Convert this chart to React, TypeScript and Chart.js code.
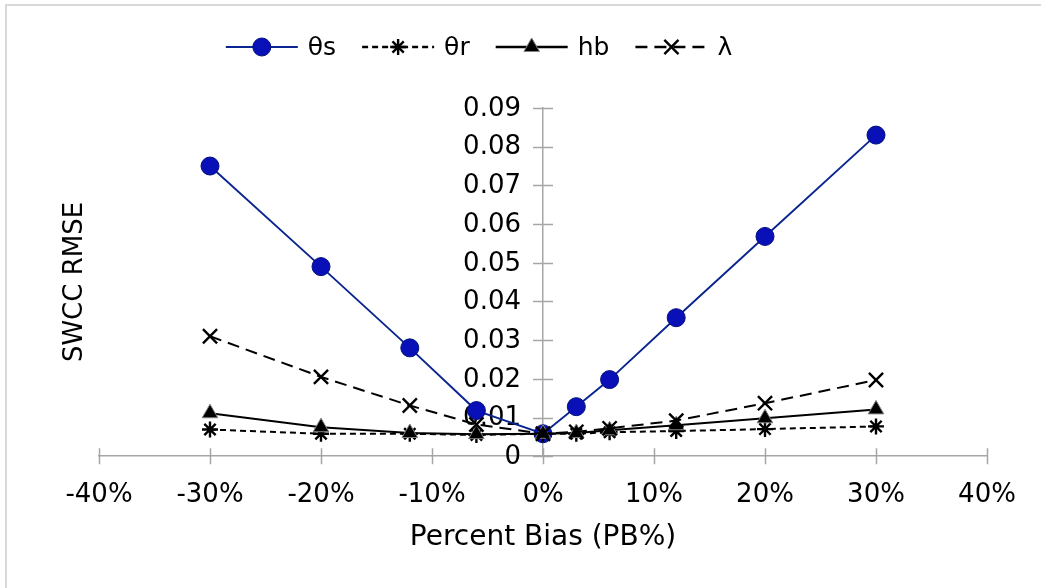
import React, { useEffect, useRef } from "react";
import { Chart, registerables } from "chart.js";
import { drawPoint } from "chart.js/helpers";

Chart.register(...registerables);

const biasPercent = [-30, -20, -12, -6, 0, 3, 6, 12, 20, 30];
const thetaS = [0.075, 0.049, 0.028, 0.0118, 0.0058, 0.0128, 0.0198, 0.0358, 0.0568, 0.083];
const thetaR = [0.0069, 0.0058, 0.0058, 0.0055, 0.0058, 0.0058, 0.0062, 0.0065, 0.007, 0.0077];
const hb = [0.0111, 0.0075, 0.006, 0.0057, 0.0058, 0.006, 0.0067, 0.008, 0.0098, 0.0121];
const lambda = [0.031, 0.0205, 0.0131, 0.0082, 0.0058, 0.0063, 0.0072, 0.0092, 0.0137, 0.0197];
const seriesLabels = ["θs", "θr", "hb", "λ"];
const xTitle = "Percent Bias (PB%)";
const yTitle = "SWCC RMSE";

const FONT = "'DejaVu Sans', sans-serif";
const AXIS_GRAY = "#a6a6a6";

const frameAndTicksPlugin = {
  id: "crossTicks",
  beforeDraw(chart: any) {
    const ctx = chart.ctx;
    ctx.save();
    ctx.fillStyle = "#ffffff";
    ctx.fillRect(0, 0, chart.width, chart.height);
    ctx.strokeStyle = "#d9d9d9";
    ctx.lineWidth = 2;
    ctx.beginPath();
    ctx.moveTo(6, chart.height);
    ctx.lineTo(6, 5);
    ctx.lineTo(chart.width, 5);
    ctx.stroke();
    ctx.restore();
  },
  beforeDatasetsDraw(chart: any) {
    const ctx = chart.ctx;
    const xs = chart.scales.x;
    const ys = chart.scales.y;
    const x0 = xs.getPixelForValue(0);
    const yb = ys.getPixelForValue(0);
    ctx.save();
    ctx.strokeStyle = AXIS_GRAY;
    ctx.lineWidth = 1.5;
    ctx.beginPath();
    xs.ticks.forEach((t: any) => {
      const px = Math.round(xs.getPixelForValue(t.value)) + 0.5;
      ctx.moveTo(px, yb - 8);
      ctx.lineTo(px, yb + 8);
    });
    ys.ticks.forEach((t: any) => {
      const py = Math.round(ys.getPixelForValue(t.value)) + 0.5;
      ctx.moveTo(x0 - 10, py);
      ctx.lineTo(x0 + 10, py);
    });
    ctx.stroke();
    ctx.font = `26px ${FONT}`;
    ctx.fillStyle = "#000";
    ctx.textAlign = "right";
    ctx.textBaseline = "middle";
    ys.ticks.forEach((t: any) => {
      const py = ys.getPixelForValue(t.value);
      ctx.fillText(t.label, x0 - 22, py + 1);
    });
    ctx.restore();
  },
};

const legendAndTitlePlugin = {
  id: "customLegend",
  afterDraw(chart: any) {
    const ctx = chart.ctx;
    ctx.save();
    ctx.font = `26px ${FONT}`;
    ctx.fillStyle = "#000";
    ctx.textAlign = "center";
    ctx.textBaseline = "middle";
    ctx.translate(75, 282);
    ctx.rotate(-Math.PI / 2);
    ctx.fillText(yTitle, 0, 0);
    ctx.restore();

    ctx.save();
    ctx.font = `25px ${FONT}`;
    const lineLen = 72;
    const gap = 10;
    const spacing = 26;
    const dsets = chart.data.datasets;
    const widths = dsets.map((d: any) => ctx.measureText(d.label).width);
    const total = widths.reduce((a: number, b: number) => a + b, 0) + dsets.length * (lineLen + gap) + (dsets.length - 1) * spacing;
    let x = 479 - total / 2;
    const y = 47;
    dsets.forEach((d: any, i: number) => {
      ctx.save();
      ctx.strokeStyle = d.borderColor;
      ctx.lineWidth = d.borderWidth + 0.3;
      ctx.setLineDash(d.borderDash || []);
      ctx.beginPath();
      ctx.moveTo(x, y);
      ctx.lineTo(x + lineLen, y);
      ctx.stroke();
      ctx.setLineDash([]);
      ctx.fillStyle = d.pointBackgroundColor;
      ctx.strokeStyle = d.pointBorderColor;
      ctx.lineWidth = d.pointBorderWidth;
      drawPoint(ctx, { pointStyle: d.pointStyle, radius: d.pointRadius, rotation: 0, borderWidth: d.pointBorderWidth }, x + lineLen / 2, y);
      ctx.restore();
      ctx.fillStyle = "#000";
      ctx.textAlign = "left";
      ctx.textBaseline = "middle";
      ctx.fillText(d.label, x + lineLen + gap, y + 1);
      x += lineLen + gap + widths[i] + spacing;
    });
    ctx.restore();
  },
};

const toPoints = (ys: number[]) => biasPercent.map((x, i) => ({ x, y: ys[i] }));

export default function App() {
  const ref = useRef<HTMLCanvasElement | null>(null);
  useEffect(() => {
    if (!ref.current) return;
    const chart = new Chart(ref.current, {
      type: "line",
      data: {
        datasets: [
          {
            label: seriesLabels[0],
            data: toPoints(thetaS),
            borderColor: "#0b2590",
            borderWidth: 1.9,
            pointStyle: "circle",
            pointRadius: 9,
            pointBackgroundColor: "#0a10b8",
            pointBorderColor: "#00107a",
            pointBorderWidth: 1,
            order: 4,
          },
          {
            label: seriesLabels[1],
            data: toPoints(thetaR),
            borderColor: "#000000",
            borderWidth: 2,
            borderDash: [6, 4],
            pointStyle: "star",
            pointRadius: 8,
            pointBackgroundColor: "#000000",
            pointBorderColor: "#000000",
            pointBorderWidth: 2.4,
            order: 3,
          },
          {
            label: seriesLabels[2],
            data: toPoints(hb),
            borderColor: "#000000",
            borderWidth: 2,
            pointStyle: "triangle",
            pointRadius: 9,
            pointBackgroundColor: "#000000",
            pointBorderColor: "#7f7f7f",
            pointBorderWidth: 1,
            order: 2,
          },
          {
            label: seriesLabels[3],
            data: toPoints(lambda),
            borderColor: "#000000",
            borderWidth: 2,
            borderDash: [12, 7],
            pointStyle: "crossRot",
            pointRadius: 10,
            pointBackgroundColor: "#000000",
            pointBorderColor: "#000000",
            pointBorderWidth: 2.4,
            order: 1,
          },
        ] as any,
      },
      options: {
        responsive: false,
        animation: false,
        layout: { padding: { left: 99, right: 54, top: 108, bottom: 33 } },
        plugins: { legend: { display: false }, tooltip: { enabled: false } },
        scales: {
          x: {
            type: "linear",
            position: "bottom",
            min: -40,
            max: 40,
            ticks: {
              stepSize: 10,
              padding: 9,
              color: "#000",
              font: { family: FONT, size: 26 },
              callback: (v: any) => `${v}%`,
            },
            grid: { display: true, drawOnChartArea: false, drawTicks: true, tickLength: 14, color: "rgba(0,0,0,0)" },
            border: { display: true, color: AXIS_GRAY, width: 1.5 },
            title: {
              display: true,
              text: xTitle,
              color: "#000",
              font: { family: FONT, size: 28 },
              padding: { top: 2, bottom: 0 },
            },
          },
          y: {
            type: "linear",
            position: { x: 0 } as any,
            min: 0,
            max: 0.09,
            ticks: {
              display: false,
              stepSize: 0.01,
              callback: (v: any) => (Math.abs(v) < 1e-9 ? "0" : Number(v).toFixed(2)),
            },
            grid: { display: false, drawTicks: false },
            border: { display: true, color: AXIS_GRAY, width: 1.5 },
          },
        },
      },
      plugins: [frameAndTicksPlugin, legendAndTitlePlugin],
    });
    return () => chart.destroy();
  }, []);

  return (
    <div style={{ position: "fixed", left: 0, top: 0, width: 1041, height: 588, overflow: "hidden", background: "#fff" }}>
      <canvas ref={ref} width={1041} height={588} style={{ display: "block" }} />
    </div>
  );
}
